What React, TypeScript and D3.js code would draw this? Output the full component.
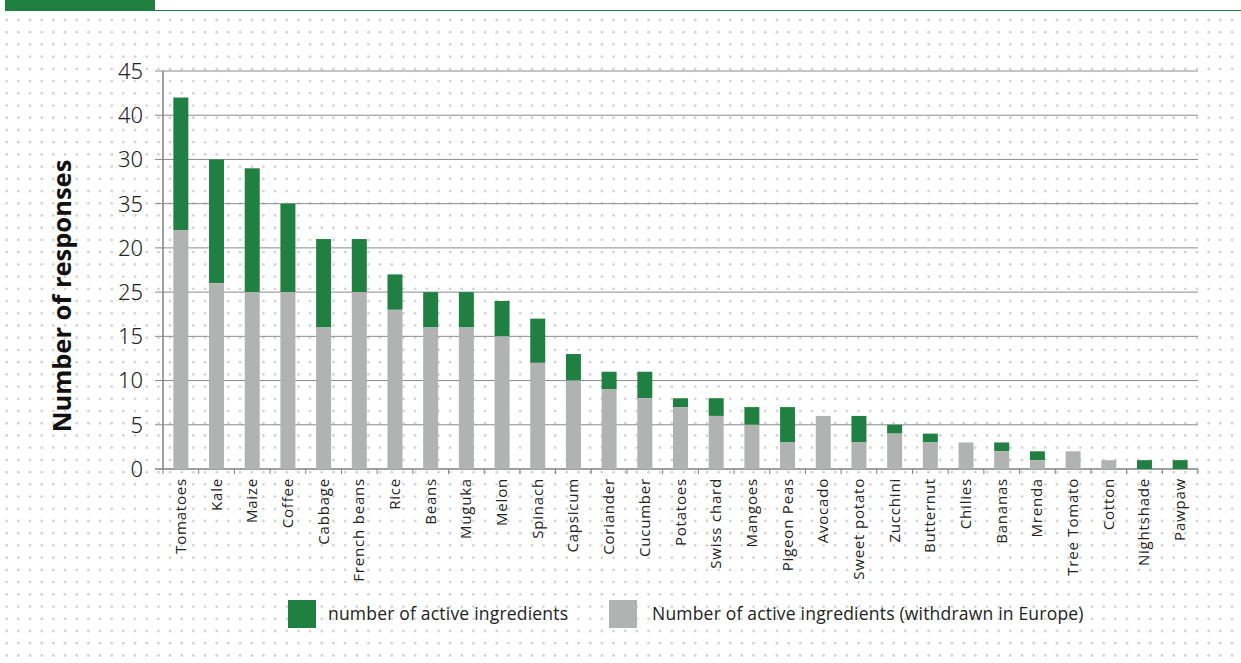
import React from "react";
import * as d3 from "d3";

const categories = ["Tomatoes","Kale","Maize","Coffee","Cabbage","French beans","Rice","Beans","Muguka","Melon","Spinach","Capsicum","Coriander","Cucumber","Potatoes","Swiss chard","Mangoes","Pigeon Peas","Avocado","Sweet potato","Zucchini","Butternut","Chilies","Bananas","Mrenda","Tree Tomato","Cotton","Nightshade","Pawpaw"];
// total number of active ingredients
const totals = [42,35,34,30,26,26,22,20,20,19,17,13,11,11,8,8,7,7,6,6,5,4,3,3,2,2,1,1,1];
// number withdrawn in Europe (grey part)
const withdrawn = [27,21,20,20,16,20,18,16,16,15,12,10,9,8,7,6,5,3,6,3,4,3,3,2,1,2,1,0,0];
const yTickValues = [0,5,10,15,20,25,30,35,40,45];
const yTickLabels = ["0","5","10","15","25","20","35","30","40","45"];
const legendLabels = ["number of active ingredients","Number of active ingredients (withdrawn in Europe)"];

const GREEN = "#1f8041";
const GREY = "#b1b3b2";
const W = 1241, H = 663;

export default function App() {
  const left = 163, right = 1198, top = 71, bottom = 469;
  const x = d3.scaleBand<string>().domain(categories).range([left, right]).paddingInner(0.58).paddingOuter(0.29);
  const y = d3.scaleLinear().domain([0, 45]).range([bottom, top]);
  const step = x.step();

  const dots: JSX.Element[] = [];
  for (let yy = 20; yy < H; yy += 12.22) {
    for (let xx = 6.7; xx < W; xx += 11.67) {
      dots.push(<circle key={`${xx}-${yy}`} cx={xx} cy={yy} r={1.4} fill="#d4d4d4" />);
    }
  }

  return (
    <svg width={W} height={H} style={{ position: "absolute", left: 0, top: 0, background: "#fff" }}>
      <g>{dots}</g>
      <rect x={5} y={0} width={150} height={11} fill={GREEN} />
      <line x1={155} x2={W} y1={10.5} y2={10.5} stroke={GREEN} strokeWidth={1} />

      {yTickValues.map((v, i) => (
        <g key={v}>
          <line x1={155} x2={right} y1={y(v)} y2={y(v)} stroke={i === 0 ? "#808080" : "#8c8c8c"} strokeWidth={i === 0 ? 1.5 : 1} />
          <text x={143} y={y(v)} dy="0.36em" textAnchor="end" fontFamily="Noto Sans" fontWeight={300} fontSize={22} fill="#222">{yTickLabels[i]}</text>
        </g>
      ))}
      <line x1={left} x2={left} y1={top} y2={bottom} stroke="#808080" strokeWidth={1.5} />

      {categories.map((c, i) => {
        const bx = x(c)!;
        const bw = x.bandwidth();
        return (
          <g key={c}>
            {totals[i] > withdrawn[i] && (
              <rect x={bx} width={bw} y={y(totals[i])} height={y(withdrawn[i]) - y(totals[i])} fill={GREEN} />
            )}
            {withdrawn[i] > 0 && (
              <rect x={bx} width={bw} y={y(withdrawn[i])} height={y(0) - y(withdrawn[i])} fill={GREY} />
            )}
          </g>
        );
      })}

      {d3.range(categories.length + 1).map((k) => (
        <line key={k} x1={left + k * step} x2={left + k * step} y1={bottom} y2={bottom + 5} stroke="#808080" strokeWidth={1} />
      ))}

      {categories.map((c) => {
        const cx = x(c)! + x.bandwidth() / 2;
        return (
          <text key={c} transform={`translate(${cx + 5},${478}) rotate(-90)`} textAnchor="end" fontFamily="Open Sans" fontSize={15} letterSpacing={0.8} fill="#222">{c}</text>
        );
      })}

      <text transform="translate(71,296) rotate(-90)" textAnchor="middle" fontFamily="Open Sans" fontWeight={700} fontSize={25.5} fill="#111">Number of responses</text>

      <rect x={288} y={600} width={28} height={28} fill={GREEN} />
      <text x={328} y={620} fontFamily="Open Sans" fontSize={17.5} letterSpacing={0.2} fill="#222">{legendLabels[0]}</text>
      <rect x={609} y={600} width={28} height={28} fill={GREY} />
      <text x={652} y={620} fontFamily="Open Sans" fontSize={17.5} letterSpacing={0.2} fill="#222">{legendLabels[1]}</text>
    </svg>
  );
}
